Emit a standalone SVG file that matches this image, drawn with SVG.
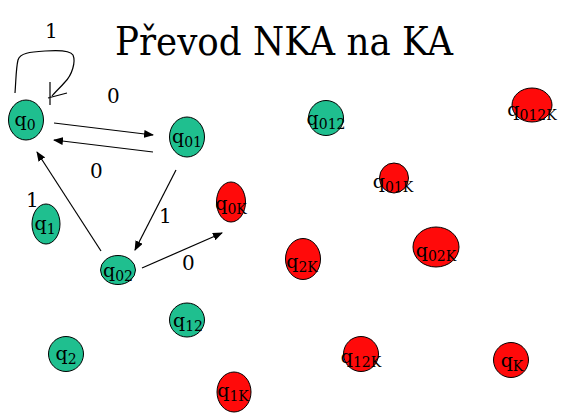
<svg xmlns="http://www.w3.org/2000/svg" width="572" height="420" viewBox="0 0 572 420">
<defs>
<style>
.g{fill:#1fbf8f;stroke:#000;stroke-width:1}
.r{fill:#ff0a0a;stroke:#000;stroke-width:1}
.l{font-family:'DejaVu Serif','Liberation Serif',serif;font-size:19px;fill:#000;text-anchor:middle}
.s{font-size:14px}
.e{font-family:'DejaVu Serif','Liberation Serif',serif;font-size:20px;fill:#000}
.c{stroke:#000;stroke-width:1.2;fill:none}
.t{font-family:'DejaVu Serif','Liberation Serif',serif;font-size:39px;fill:#000}
</style>
<marker id="a" markerWidth="10" markerHeight="8" refX="9" refY="4" orient="auto" markerUnits="userSpaceOnUse">
<path d="M0,0 L10,4 L0,8 Z" fill="#000"/>
</marker>
</defs>
<rect width="572" height="420" fill="#fff"/>
<text class="t" x="115" y="55" textLength="338" lengthAdjust="spacingAndGlyphs">Převod NKA na KA</text>

<g id="connectors">
<path class="c" d="M15,93 C16,80 16,68 18,60 C20,53 30,52 45,51 C58,50 70,50 73,55 C76,62 72,75 65,82 C60,88 55,92 52,96"/>
<path class="c" d="M50,82 L50,105 M48,98 L67,93"/>
<line class="c" x1="54" y1="123" x2="153" y2="135" marker-end="url(#a)"/>
<line class="c" x1="153" y1="152" x2="54" y2="140" marker-end="url(#a)"/>
<line class="c" x1="176" y1="170" x2="135" y2="250" marker-end="url(#a)"/>
<line class="c" x1="101" y1="251" x2="37" y2="152" marker-end="url(#a)"/>
<line class="c" x1="142" y1="268" x2="222" y2="233" marker-end="url(#a)"/>
<text class="e" x="45" y="38">1</text>
<text class="e" x="107" y="103">0</text>
<text class="e" x="90" y="178">0</text>
<text class="e" x="26" y="207">1</text>
<text class="e" x="159" y="223">1</text>
<text class="e" x="182" y="270">0</text>
</g>

<g id="q0"><ellipse class="g" cx="26" cy="120" rx="17.5" ry="20"/><text class="l" x="25" y="126">q<tspan class="s" dy="4">0</tspan></text></g>
<g id="q01"><ellipse class="g" cx="187" cy="137" rx="17.5" ry="20"/><text class="l" x="187" y="143">q<tspan class="s" dy="4">01</tspan></text></g>
<g id="q1"><ellipse class="g" cx="46" cy="224" rx="14" ry="20"/><text class="l" x="45" y="230">q<tspan class="s" dy="4">1</tspan></text></g>
<g id="q02"><ellipse class="g" cx="118" cy="270" rx="17.5" ry="14.5"/><text class="l" x="118" y="277">q<tspan class="s" dy="4">02</tspan></text></g>
<g id="q12"><ellipse class="g" cx="187" cy="320" rx="17.5" ry="17"/><text class="l" x="188" y="327">q<tspan class="s" dy="4">12</tspan></text></g>
<g id="q2"><ellipse class="g" cx="66" cy="354" rx="17.5" ry="17.5"/><text class="l" x="66" y="360">q<tspan class="s" dy="4">2</tspan></text></g>
<g id="q012"><ellipse class="g" cx="326" cy="118" rx="17.5" ry="17.5"/><text class="l" x="326" y="125">q<tspan class="s" dy="4">012</tspan></text></g>

<g id="q0K"><ellipse class="r" cx="231" cy="202" rx="14.5" ry="20"/><text class="l" x="231" y="210">q<tspan class="s" dy="4">0K</tspan></text></g>
<g id="q1K"><ellipse class="r" cx="234" cy="392" rx="17" ry="20"/><text class="l" x="233" y="397">q<tspan class="s" dy="4">1K</tspan></text></g>
<g id="q01K"><ellipse class="r" cx="394" cy="178" rx="14.5" ry="15"/><text class="l" x="393" y="188">q<tspan class="s" dy="4">01K</tspan></text></g>
<g id="q012K"><ellipse class="r" cx="532" cy="105" rx="20" ry="17"/><text class="l" x="532" y="116">q<tspan class="s" dy="4">012K</tspan></text></g>
<g id="q2K"><ellipse class="r" cx="303" cy="259" rx="17.5" ry="20.5"/><text class="l" x="302" y="268">q<tspan class="s" dy="4">2K</tspan></text></g>
<g id="q02K"><ellipse class="r" cx="436" cy="247" rx="23" ry="20"/><text class="l" x="436" y="257">q<tspan class="s" dy="4">02K</tspan></text></g>
<g id="q12K"><ellipse class="r" cx="361" cy="354" rx="17.5" ry="17.5"/><text class="l" x="361" y="363">q<tspan class="s" dy="4">12K</tspan></text></g>
<g id="qK"><ellipse class="r" cx="511" cy="360" rx="17.5" ry="17.5"/><text class="l" x="512" y="367">q<tspan class="s" dy="4">K</tspan></text></g>
</svg>
